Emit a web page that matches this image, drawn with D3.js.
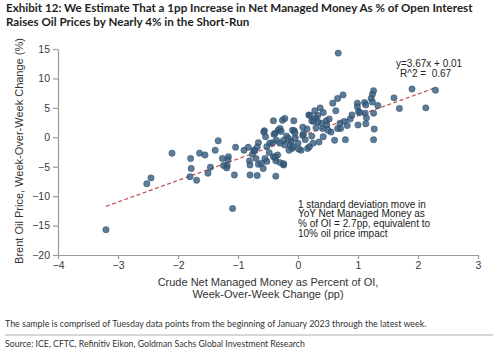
<!DOCTYPE html>
<html>
<head>
<meta charset="utf-8">
<script src="https://cdn.jsdelivr.net/npm/d3@7"></script>
<style>
  body { margin: 0; background: #fff; }
  svg { display: block; }
</style>
</head>
<body>
<svg id="chart" width="500" height="361"></svg>
<script>
// week-over-week change in net managed money as % of OI (pp)
const oiChange = [
  -3.20, -2.52, -2.45, -2.10, -1.79, -1.78, -1.80, -1.69, -1.64, -1.55,
  -1.46, -1.50, -1.33, -1.38, -1.26, -1.16, -1.18, -1.24, -1.19, -1.17,
  -1.04, -1.06, -1.09, -0.90, -0.83, -0.81, -0.80, -0.80, -0.76, -0.74,
  -0.70, -0.66, -0.55, -0.41, -0.34, -0.37, -0.30, -0.24, -0.58, -0.68,
  -0.37, -0.66, -0.68, -0.47, -0.36, -0.54, -0.56, -0.40, -0.33, -0.30,
  -0.41, -0.26, -0.22, -0.19, -0.24, -0.12, -0.05, 0.00, -0.22, -0.10,
  -0.15, 0.05, 0.16, 0.19, 0.35, 0.42, 0.23, 0.09, 0.30, 0.15,
  -0.09, 0.08, 0.41, 0.39, 0.33, 0.23, 0.30, 0.42, 0.18, 0.28,
  0.37, 0.47, 0.52, 0.58, 0.63, 0.66, 0.75, 0.67, 0.77, 0.71,
  0.66, 0.79, 0.61, 0.87, 0.99, 0.99, 1.01, 1.11, 1.13, 1.12,
  1.14, 1.13, 1.00, 1.26, 1.24, 1.22, 1.33, 1.27, 1.26, 1.60,
  1.69, 1.90, 2.13, 2.29, -0.06, 0.08, 0.20, 0.33, 0.26, 0.48,
  0.82, 0.70, 1.26, 1.03, 1.24, -0.07, -0.57, -0.38, -0.28, -0.05,
  -0.16, -0.30, -0.13, -0.08, 0.01, -0.42, -0.52, -0.72, -0.61, -0.52,
  -0.38, -0.24, -0.48, 0.12, 0.25, 0.55, 0.50, 0.90
]
// brent week-over-week change (%)
const brentChange = [
  -15.7, -7.9, -6.9, -2.7, -3.6, -5.3, -6.7, -7.3, -2.7, -3.0,
  -5.1, -6.1, -0.6, -2.2, -3.6, -3.3, -4.8, -4.8, -5.2, -3.8,
  -1.7, -6.4, -12.1, -2.2, -1.7, -4.0, -4.7, -6.4, -2.9, -2.2,
  -3.6, -4.6, -3.6, -3.3, -3.0, -4.0, -4.3, -4.7, -5.3, -6.5,
  -6.6, -0.9, -1.7, -1.0, -0.5, 0.1, 1.1, 0.5, 1.2, 1.5,
  2.8, 2.9, 3.2, 0.2, -0.5, -0.7, -0.2, -1.0, -1.3, -1.9,
  -2.2, -2.2, -1.9, -1.6, -0.8, 0.1, 0.2, 0.6, 1.6, 1.4,
  1.2, 1.7, 1.5, 2.4, 2.6, 2.8, 3.3, 4.2, 3.8, 4.5,
  5.0, 2.8, 3.1, 5.8, 4.5, 6.6, 7.2, 14.3, 2.7, 1.5,
  1.5, -0.4, -0.5, 3.1, 5.8, 5.2, 4.4, 5.9, 5.5, 4.1,
  3.3, 2.3, 2.1, 7.9, 7.3, 6.6, 5.4, 1.4, -0.4, 6.7,
  4.9, 8.2, 5.0, 8.0, 1.1, 0.3, 3.7, 3.7, 2.7, 2.1,
  2.0, 2.4, 4.1, 4.2, 6.0, 2.8, 0.9, 0.7, 1.0, 0.7,
  -0.2, -1.0, -1.3, -1.6, -2.0, -0.9, -1.6, -2.3, -4.4, -4.1,
  -3.4, -4.5, -2.6, -0.4, -1.0, 0.9, 1.2, 3.8
]

const fitSlope = 3.67
const fitIntercept = 0.01
const fitRange = [-3.2, 2.3]

const xTicks = [-4, -3, -2, -1, 0, 1, 2, 3]
const yTicks = [-20, -15, -10, -5, 0, 5, 10, 15]

const titleLines = [
  'Exhibit 12: We Estimate That a 1pp Increase in Net Managed Money As % of Open Interest',
  'Raises Oil Prices by Nearly 4% in the Short-Run'
]
const noteLines = [
  '1 standard deviation move in',
  'YoY Net Managed Money as',
  '% of OI = 2.7pp, equivalent to',
  '10% oil price impact'
]

let svg = d3.select('#chart')
let points = oiChange.map((d, i) => ({ x: d, y: brentChange[i] }))

let x = d3.scaleLinear().domain([-4, 3]).range([58, 478])
let y = d3.scaleLinear().domain([-20, 15]).range([255, 49])

// shrink/grow a text node so it spans a given width
function fitWidth(sel, target) {
  let fs = parseFloat(sel.attr('font-size'))
  let w = sel.node().getComputedTextLength()
  sel.attr('font-size', fs * target / w)
  return fs * target / w
}

// title
let t1 = svg.append('text')
    .attr('x', 6).attr('y', 12)
    .attr('font-family', 'Lato')
    .attr('font-weight', 700)
    .attr('font-size', 13)
    .attr('fill', '#1e1e1e')
    .text(titleLines[0])
let titleSize = fitWidth(t1, 467)
svg.append('text')
    .attr('x', 6).attr('y', 26)
    .attr('font-family', 'Lato')
    .attr('font-weight', 700)
    .attr('font-size', titleSize)
    .attr('fill', '#1e1e1e')
    .text(titleLines[1])

// axes
let fmt = d3.format('d')
let yAxis = svg.append('g')
    .attr('transform', 'translate(58,0)')
    .call(d3.axisLeft(y).tickValues(yTicks).tickFormat(fmt)
      .tickSize(5).tickPadding(3).tickSizeOuter(0))
let xAxis = svg.append('g')
    .attr('transform', 'translate(0,255)')
    .call(d3.axisBottom(x).tickValues(xTicks).tickFormat(fmt)
      .tickSize(4).tickPadding(3).tickSizeOuter(0))

for (let ax of [xAxis, yAxis]) {
  ax.selectAll('path, line').attr('stroke', '#9a9a9a').attr('stroke-width', 1.2)
  ax.selectAll('text')
      .attr('font-family', 'Liberation Sans, Arial, sans-serif')
      .attr('font-size', 10.5)
      .attr('fill', '#3a3a3a')
}

// axis titles
svg.append('text')
    .attr('transform', 'translate(23,151) rotate(-90)')
    .attr('text-anchor', 'middle')
    .attr('font-family', 'Liberation Sans, Arial, sans-serif')
    .attr('font-size', 11)
    .attr('fill', '#333')
    .text('Brent Oil Price, Week-Over-Week Change (%)')

let xTitle = svg.append('text')
    .attr('text-anchor', 'middle')
    .attr('font-family', 'Liberation Sans, Arial, sans-serif')
    .attr('font-size', 11)
    .attr('fill', '#333')
xTitle.append('tspan').attr('x', 268).attr('y', 286)
    .text('Crude Net Managed Money as Percent of OI,')
xTitle.append('tspan').attr('x', 268).attr('y', 298)
    .text('Week-Over-Week Change (pp)')

// regression line
svg.append('line')
    .attr('x1', x(fitRange[0])).attr('y1', y(fitSlope * fitRange[0] + fitIntercept))
    .attr('x2', x(fitRange[1])).attr('y2', y(fitSlope * fitRange[1] + fitIntercept))
    .attr('stroke', '#c0504d')
    .attr('stroke-width', 1.2)
    .attr('stroke-dasharray', '4,2.5')

// scatter
svg.append('g')
  .selectAll('circle')
  .data(points)
  .enter().append('circle')
    .attr('cx', d => x(d.x))
    .attr('cy', d => y(d.y))
    .attr('r', 3.2)
    .attr('fill', '#355b7d')
    .attr('fill-opacity', 0.8)
    .attr('stroke', '#1f3c5a')
    .attr('stroke-opacity', 0.6)
    .attr('stroke-width', 0.6)

// equation
let eq = svg.append('text')
    .attr('font-family', 'Liberation Sans, Arial, sans-serif')
    .attr('font-size', 10)
    .attr('fill', '#222')
eq.append('tspan').attr('x', 396).attr('y', 66.5).text('y=3.67x + 0.01')
eq.append('tspan').attr('x', 400).attr('y', 77).attr('xml:space', 'preserve').text('R^2 =  0.67')

// annotation
let note = svg.append('text')
    .attr('font-family', 'Liberation Sans, Arial, sans-serif')
    .attr('font-size', 10)
    .attr('fill', '#222')
noteLines.forEach((line, i) => {
  note.append('tspan').attr('x', 298).attr('y', 207.5 + i * 9.8).text(line)
})

// footer
let foot = svg.append('text')
    .attr('x', 5).attr('y', 327)
    .attr('font-family', 'Lato')
    .attr('font-size', 9)
    .attr('fill', '#333')
    .text('The sample is comprised of Tuesday data points from the beginning of January 2023 through the latest week.')
fitWidth(foot, 422)

svg.append('line')
    .attr('x1', 5).attr('x2', 493)
    .attr('y1', 335).attr('y2', 335)
    .attr('stroke', '#b0b0b0')
    .attr('stroke-width', 1.2)

let src = svg.append('text')
    .attr('x', 5).attr('y', 347)
    .attr('font-family', 'Lato')
    .attr('font-size', 9)
    .attr('fill', '#333')
    .text('Source: ICE, CFTC, Refinitiv Eikon, Goldman Sachs Global Investment Research')
fitWidth(src, 300)
</script>
</body>
</html>
